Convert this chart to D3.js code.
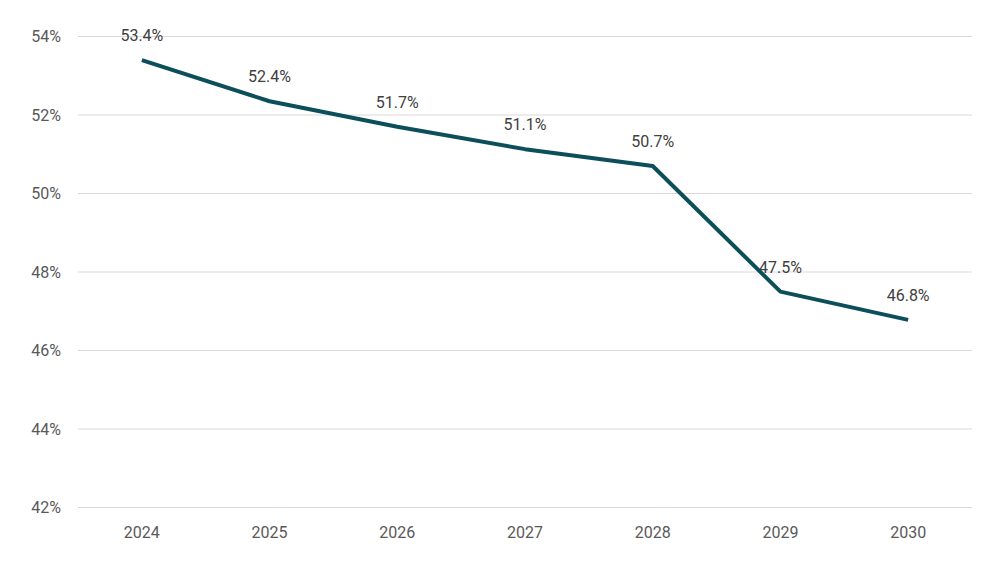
<!DOCTYPE html>
<html>
<head>
<meta charset="utf-8">
<script src="https://cdn.jsdelivr.net/npm/d3@7"></script>
<style>
  body { margin: 0; background: #fff; }
  text { font-family: Roboto, "Noto Sans", sans-serif; }
</style>
</head>
<body>
<div class="chart"></div>
<script>
const years = ["2024", "2025", "2026", "2027", "2028", "2029", "2030"];
const values = [53.4, 52.35, 51.7, 51.13, 50.7, 47.5, 46.78];
const yTicks = [42, 44, 46, 48, 50, 52, 54];

const dims = { width: 1000, height: 563 };
const margin = { top: 36.5, right: 28, bottom: 55.5, left: 78 };

const svg = d3.select(".chart").append("svg")
  .attr("width", dims.width)
  .attr("height", dims.height);

const x = d3.scaleBand()
  .domain(years)
  .range([margin.left, dims.width - margin.right]);

const y = d3.scaleLinear()
  .domain([42, 54])
  .range([dims.height - margin.bottom, margin.top]);

// gridlines
svg.append("g")
  .selectAll("line")
  .data(yTicks)
  .join("line")
  .attr("x1", margin.left)
  .attr("x2", dims.width - margin.right)
  .attr("y1", d => y(d))
  .attr("y2", d => y(d))
  .attr("stroke", "#d9d9d9")
  .attr("stroke-width", 1);

// y labels
svg.append("g")
  .selectAll("text")
  .data(yTicks)
  .join("text")
  .attr("x", 61)
  .attr("y", d => y(d))
  .attr("dy", "0.35em")
  .attr("text-anchor", "end")
  .style("font-size", "16px")
  .style("fill", "#595959")
  .text(d => d + "%");

// x labels
svg.append("g")
  .selectAll("text")
  .data(years)
  .join("text")
  .attr("x", d => x(d) + x.bandwidth() / 2)
  .attr("y", 538)
  .attr("text-anchor", "middle")
  .style("font-size", "16px")
  .style("fill", "#595959")
  .text(d => d);

const line = d3.line()
  .x((d, i) => x(years[i]) + x.bandwidth() / 2)
  .y(d => y(d));

svg.append("path")
  .datum(values)
  .attr("d", line)
  .attr("fill", "none")
  .attr("stroke", "#0c4e5a")
  .attr("stroke-width", 4)
  .attr("stroke-linejoin", "round");

// data labels
svg.append("g")
  .selectAll("text")
  .data(values)
  .join("text")
  .attr("x", (d, i) => x(years[i]) + x.bandwidth() / 2)
  .attr("y", d => y(d) - 19)
  .attr("text-anchor", "middle")
  .style("font-size", "16px")
  .style("fill", "#404040")
  .text(d => d.toFixed(1) + "%");
</script>
</body>
</html>
